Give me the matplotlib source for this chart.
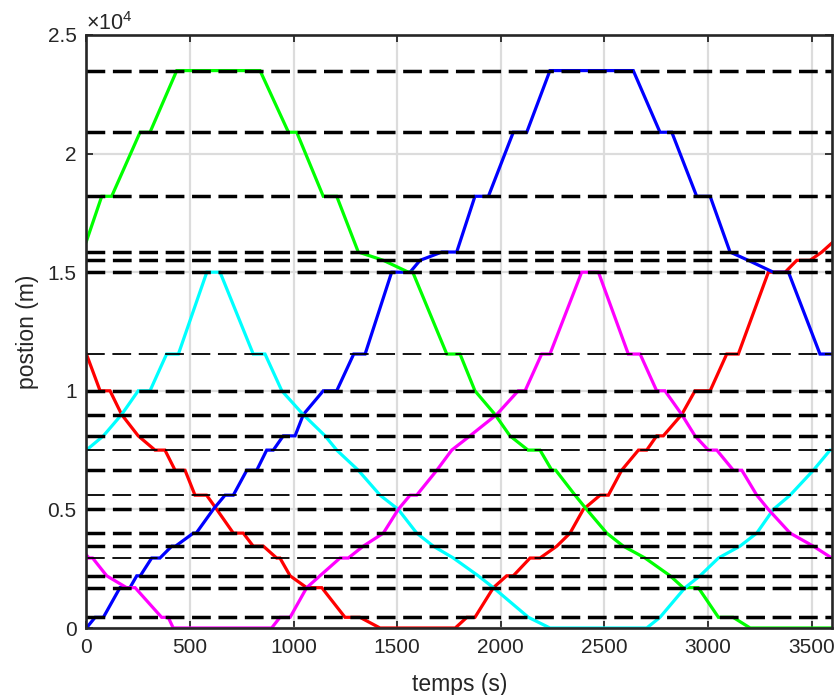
import matplotlib
matplotlib.use("Agg")
import matplotlib.pyplot as plt

plt.rcParams['font.family'] = ['Liberation Sans', 'DejaVu Sans']
plt.rcParams['mathtext.fontset'] = 'custom'
plt.rcParams['mathtext.rm'] = 'Liberation Sans'

# positions des stations (m)
stations = [450, 1700, 2200, 2950, 3450, 4000, 5000, 5600, 6650, 7500, 8100,
            9000, 10000, 11550, 15000, 15500, 15850, 18200, 20900, 23500]
stations_fines = [2950, 5600, 7500, 11550]

# marche des trains : temps (s) et position (m)
t_vert = [0, 74, 122, 259, 307, 436, 838, 975, 1015, 1143, 1208, 1312, 1433,
          1554, 1575, 1739, 1803, 1875, 1972, 2044, 2131, 2189, 2246, 2265,
          2358, 2414, 2511, 2591, 2696, 2817, 2880, 2953, 3050, 3121, 3203, 3600]
x_vert = [16300, 18200, 18200, 20900, 20900, 23500, 23500, 20900, 20900, 18200,
          18200, 15850, 15500, 15000, 15000, 11550, 11550, 10000, 9000, 8100,
          7500, 7500, 6650, 6650, 5600, 5000, 4000, 3450, 2950, 2200, 1700, 1700,
          450, 450, 0, 0]

t_bleu = [0, 42, 82, 162, 210, 243, 260, 315, 355, 412, 430, 516, 530, 612, 669,
          709, 774, 822, 870, 902, 950, 1007, 1047, 1143, 1208, 1290, 1345, 1473,
          1562, 1610, 1715, 1787, 1875, 1940, 2060, 2125, 2237, 2639, 2768, 2825,
          2945, 3010, 3106, 3194, 3315, 3388, 3540, 3600]
x_bleu = [0, 450, 450, 1700, 1700, 2200, 2200, 2950, 2950, 3450, 3450, 4000, 4000,
          5000, 5600, 5600, 6650, 6650, 7500, 7500, 8100, 8100, 9000, 10000, 10000,
          11550, 11550, 15000, 15000, 15500, 15850, 15850, 18200, 18200, 20900,
          20900, 23500, 23500, 20900, 20900, 18200, 18200, 15850, 15500, 15000,
          15000, 11550, 11550]

t_cyan = [0, 82, 170, 250, 307, 387, 444, 581, 645, 805, 862, 943, 1046, 1152,
          1208, 1312, 1417, 1505, 1594, 1674, 1771, 1891, 1964, 2133, 2237, 2704,
          2768, 2889, 2961, 3050, 3154, 3235, 3315, 3396, 3508, 3589, 3600]
x_cyan = [7500, 8100, 9000, 10000, 10000, 11550, 11550, 15000, 15000, 11550,
          11550, 10000, 9000, 8100, 7500, 6650, 5600, 5000, 4000, 3450, 2950,
          2200, 1700, 450, 0, 0, 450, 1700, 2200, 2950, 3450, 4000, 5000, 5600,
          6650, 7500, 7500]

t_rouge = [0, 66, 114, 170, 250, 331, 379, 428, 476, 524, 580, 629, 709, 757, 805,
           854, 918, 934, 983, 1063, 1136, 1248, 1320, 1417, 1780, 1836, 1875,
           1964, 2028, 2060, 2141, 2189, 2270, 2334, 2398, 2479, 2519, 2583, 2664,
           2704, 2752, 2784, 2873, 2937, 3010, 3090, 3146, 3291, 3372, 3428, 3492,
           3549, 3600]
x_rouge = [11550, 10000, 10000, 9000, 8100, 7500, 7500, 6650, 6650, 5600, 5600,
           5000, 4000, 4000, 3450, 3450, 2950, 2950, 2200, 1700, 1700, 450, 450, 0,
           0, 450, 450, 1700, 2200, 2200, 2950, 2950, 3450, 4000, 5000, 5600, 5600,
           6650, 7500, 7500, 8100, 8100, 9000, 10000, 10000, 11550, 11550, 15000,
           15000, 15500, 15500, 15850, 16250]

t_magenta = [0, 12, 30, 98, 194, 235, 363, 395, 419, 894, 934, 983, 1063, 1127,
             1224, 1264, 1336, 1433, 1505, 1562, 1594, 1691, 1763, 1851, 1980, 2084,
             2117, 2197, 2237, 2390, 2471, 2615, 2672, 2752, 2792, 2873, 2937, 3001,
             3042, 3122, 3163, 3235, 3291, 3396, 3508, 3597, 3600]
x_magenta = [3080, 2950, 2950, 2200, 1700, 1700, 450, 450, 0, 0, 450, 450, 1700,
             2200, 2950, 2950, 3450, 4000, 5000, 5600, 5600, 6650, 7500, 8100, 9000,
             10000, 10000, 11550, 11550, 15000, 15000, 11550, 11550, 10000, 10000,
             9000, 8100, 7500, 7500, 6650, 6650, 5600, 5000, 4000, 3450, 2950, 2950]

xticks = [0, 500, 1000, 1500, 2000, 2500, 3000, 3500]
yticks = [0, 5000, 10000, 15000, 20000, 25000]
yticklabels = ['0', '0.5', '1', '1.5', '2', '2.5']

texte = '#262626'

fig = plt.figure(figsize=(8.37, 6.95), dpi=100)
ax = fig.add_axes([86.4 / 837, 1 - 628 / 695, 746 / 837, 593 / 695])

# trains
for t, x, c in [(t_rouge, x_rouge, '#ff0000'), (t_bleu, x_bleu, '#0000ff'),
                (t_vert, x_vert, '#00ff00'), (t_cyan, x_cyan, '#00ffff'),
                (t_magenta, x_magenta, '#ff00ff')]:
    ax.plot(t, x, color=c, lw=2.3, solid_joinstyle='miter', zorder=3)

# stations en pointillés par-dessus
for s in stations:
    lw = 1.3 if s in stations_fines else 2.5
    ax.axhline(s, color='k', lw=lw, dashes=(13.5 / lw, 5.5 / lw), zorder=4)

ax.set_xlim(0, 3600)
ax.set_ylim(0, 25000)
ax.set_xticks(xticks)
ax.set_yticks(yticks)
ax.set_yticklabels(yticklabels)
ax.grid(True, color='#dcdcdc', lw=1.6)
ax.set_axisbelow(True)

ax.tick_params(direction='in', top=True, right=True, length=5, width=1.3,
               labelsize=15, colors=texte, pad=7)
for sp in ax.spines.values():
    sp.set_linewidth(1.9)
    sp.set_color(texte)
    sp.set_zorder(5)

ax.set_xlabel('temps (s)', fontsize=16.5, color=texte, labelpad=12)
ax.set_ylabel('postion (m)', fontsize=16.5, color=texte, labelpad=6)
ax.text(0.0, 1.0, r'$\times10^{4}$', transform=ax.transAxes, fontsize=15.5,
        color=texte, ha='left', va='bottom')

fig.savefig('out.png', dpi=100)
